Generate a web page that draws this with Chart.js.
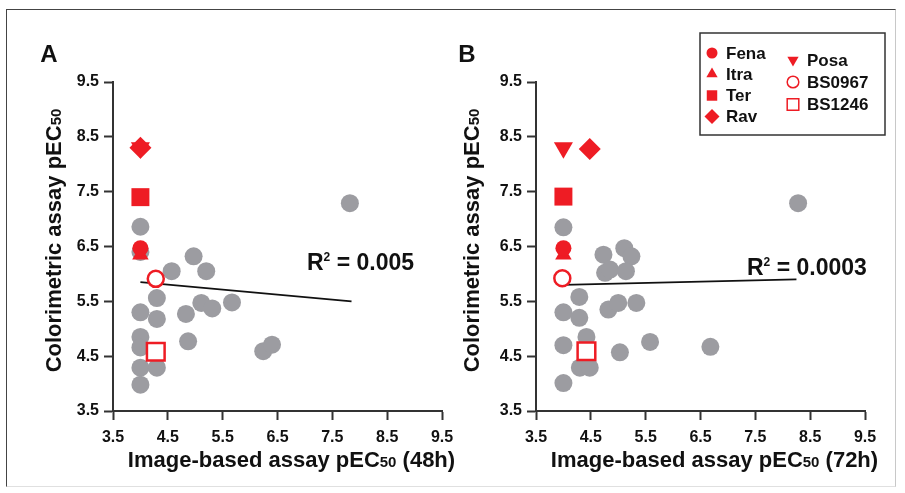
<!DOCTYPE html>
<html>
<head>
<meta charset="utf-8">
<script src="https://cdn.jsdelivr.net/npm/chart.js@4.4.0/dist/chart.umd.min.js"></script>
<style>
html, body { margin: 0; padding: 0; background: #fff; }
#wrap { position: relative; width: 905px; height: 493px; overflow: hidden; background: #fff; }
#frame { position: absolute; left: 6px; top: 9px; width: 890px; height: 478px; box-sizing: border-box;
         border: 1.5px solid #444; border-right-color: #c8c8c8; border-bottom-color: #e0e0e0; }
canvas { position: absolute; top: 0; }
#cA { left: 0; }
#cB { left: 440px; }
</style>
</head>
<body>
<div id="wrap">
  <div id="frame"></div>
  <canvas id="cA" width="480" height="493"></canvas>
  <canvas id="cB" width="465" height="493"></canvas>
</div>
<script>
const TICK_VALUES = [3.5, 4.5, 5.5, 6.5, 7.5, 8.5, 9.5];
const DRUGS = ['Fena', 'Itra', 'Ter', 'Rav', 'Posa', 'BS0967', 'BS1246'];

// panel A (48h)
const drugX48 = [4.0, 4.0, 4.0, 4.0, 4.0, 4.28, 4.28];
const drugY48 = [6.47, 6.35, 7.40, 8.30, 8.30, 5.91, 4.58];
const otherX48 = [4.0, 4.0, 4.57, 4.97, 5.20, 4.30, 4.0, 4.30, 4.83, 5.11, 5.31, 5.67, 4.0, 4.0, 4.87, 4.0, 4.30, 4.0, 6.24, 6.40, 7.82];
const otherY48 = [6.86, 6.40, 6.05, 6.32, 6.05, 5.56, 5.30, 5.18, 5.27, 5.47, 5.37, 5.48, 4.85, 4.66, 4.77, 4.29, 4.29, 3.98, 4.59, 4.71, 7.29];
const fitX48 = [4.0, 7.85];
const fitY48 = [5.85, 5.50];
const r2Text48 = '0.005';

// panel B (72h)
const drugX72 = [4.0, 4.0, 4.0, 4.48, 4.0, 3.98, 4.42];
const drugY72 = [6.47, 6.35, 7.41, 8.28, 8.30, 5.92, 4.59];
const otherX72 = [4.0, 4.73, 5.11, 5.24, 4.76, 4.85, 5.14, 4.29, 4.0, 4.29, 4.82, 5.00, 5.33, 4.0, 4.42, 5.03, 5.58, 6.68, 4.30, 4.48, 4.0, 8.28];
const otherY72 = [6.85, 6.35, 6.47, 6.32, 6.02, 6.08, 6.05, 5.58, 5.30, 5.20, 5.35, 5.47, 5.47, 4.70, 4.85, 4.57, 4.76, 4.67, 4.29, 4.29, 4.01, 7.29];
const fitX72 = [4.0, 8.25];
const fitY72 = [5.80, 5.90];
const r2Text72 = '0.0003';

const RED = '#ee1c24';
const GRAY = '#9c9ca1';
const FONT = '"Liberation Sans", Arial, Helvetica, sans-serif';

// marker look per drug: r = plot radius, lr = legend radius
const MARK = {
    Fena:   { style: 'circle',   r: 8,    lr: 5.5, rot: 0 },
    Itra:   { style: 'triangle', r: 9.5,  lr: 6.5, rot: 0 },
    Ter:    { style: 'rect',     r: 12.7, lr: 7.4, rot: 0 },
    Rav:    { style: 'rectRot',  r: 11,   lr: 7.5, rot: 0 },
    Posa:   { style: 'triangle', r: 11,   lr: 6.5, rot: 180 },
    BS0967: { style: 'circle',   r: 8,    lr: 5.8, rot: 0, open: true },
    BS1246: { style: 'rect',     r: 12.5, lr: 8.2, rot: 0, open: true }
};

function pairs(xs, ys){ return xs.map((x, i) => ({ x: x, y: ys[i] })); }

function buildDatasets(dx, dy, ox, oy, fx, fy){
    const sets = DRUGS.map((name, i) => {
        const m = MARK[name];
        return {
            label: name, data: [{ x: dx[i], y: dy[i] }], showLine: false,
            pointStyle: m.style, pointRadius: m.r, pointRotation: m.rot,
            pointBackgroundColor: m.open ? '#fff' : RED, pointBorderColor: RED,
            pointBorderWidth: m.open ? 2.5 : 0
        };
    });
    sets.push({ label: 'fit', data: pairs(fx, fy), showLine: true, borderColor: '#111', borderWidth: 1.6, pointRadius: 0 });
    sets.push({ label: 'other', data: pairs(ox, oy), showLine: false, pointStyle: 'circle', pointRadius: 9,
                pointBackgroundColor: GRAY, pointBorderWidth: 0 });
    return sets;
}

function axis(pad){
    return {
        type: 'linear', min: 3.5, max: 9.5,
        afterBuildTicks: s => { s.ticks = TICK_VALUES.map(v => ({ value: v })); },
        grid: { display: true, drawOnChartArea: false, drawTicks: true, tickLength: 9, tickWidth: 2, tickColor: '#333' },
        border: { display: true, color: '#333', width: 2 },
        ticks: { color: '#111', padding: pad, maxRotation: 0, autoSkip: false,
                 font: { family: FONT, size: 16, weight: 'bold' }, callback: v => Number(v).toFixed(1) }
    };
}

// draw text pieces of different sizes on one baseline
function richText(ctx, parts, x, y, align){
    let total = 0;
    parts.forEach(p => { ctx.font = 'bold ' + p.size + 'px ' + FONT; p.w = ctx.measureText(p.t).width; total += p.w; });
    let cx = align === 'center' ? x - total / 2 : x;
    ctx.textAlign = 'left';
    ctx.textBaseline = 'alphabetic';
    parts.forEach(p => {
        ctx.font = 'bold ' + p.size + 'px ' + FONT;
        ctx.fillText(p.t, cx, y + (p.dy || 0));
        cx += p.w;
    });
}

function decor(cfg){
    return {
        id: 'decor' + cfg.letter,
        afterDraw(chart){
            const ctx = chart.ctx, a = chart.chartArea;
            ctx.save();
            ctx.fillStyle = '#111';
            // panel letter
            richText(ctx, [{ t: cfg.letter, size: 24 }], a.left + cfg.letterDx, a.top - 20, 'center');
            // x title
            richText(ctx, [{ t: 'Image-based assay pEC', size: 22 }, { t: '50', size: 15 }, { t: ' (' + cfg.hours + ')', size: 22 }],
                     (a.left + a.right) / 2 + 14, a.bottom + 56, 'center');
            // y title
            ctx.save();
            ctx.translate(a.left + cfg.yTitleDx, (a.top + a.bottom) / 2 - 6);
            ctx.rotate(-Math.PI / 2);
            richText(ctx, [{ t: 'Colorimetric assay pEC', size: 22 }, { t: '50', size: 15 }], 0, 8, 'center');
            ctx.restore();
            // R squared
            richText(ctx, [{ t: 'R', size: 23 }, { t: '2', size: 12, dy: -9 }, { t: ' = ' + cfg.r2, size: 23 }],
                     a.left + cfg.r2Dx, a.top + cfg.r2Dy, 'left');
            if (cfg.legend) drawLegend(ctx, cfg.legend);
            ctx.restore();
        }
    };
}

function drawLegend(ctx, L){
    ctx.lineWidth = 1.5;
    ctx.strokeStyle = '#333';
    ctx.strokeRect(L.x, L.y, L.w, L.h);
    const cols = [DRUGS.slice(0, 4), DRUGS.slice(4)];
    const colX = [L.x + 12, L.x + 93];
    const rowY = [[20, 41, 62.5, 83.5], [27, 49, 71.5]];
    cols.forEach((names, c) => {
        names.forEach((name, r) => {
            const m = MARK[name];
            const mx = colX[c], my = L.y + rowY[c][r];
            ctx.fillStyle = m.open ? '#fff' : RED;
            ctx.strokeStyle = RED;
            Chart.helpers.drawPoint(ctx, { pointStyle: m.style, radius: m.lr, rotation: m.rot, borderWidth: m.open ? 1.8 : 0 }, mx, my);
            ctx.fillStyle = '#111';
            ctx.font = 'bold 17px ' + FONT;
            ctx.textAlign = 'left';
            ctx.textBaseline = 'middle';
            ctx.fillText(name, mx + 14, my + 1);
        });
    });
}

function makeChart(id, sets, pad, cfg){
    return new Chart(document.getElementById(id).getContext('2d'), {
        type: 'scatter',
        data: { datasets: sets },
        options: {
            responsive: false, animation: false, events: [],
            layout: { padding: pad },
            plugins: { legend: { display: false }, tooltip: { enabled: false } },
            scales: {
                x: Object.assign(axis(8), { afterFit: s => { s.height = 50; } }),
                y: Object.assign(axis(5), { afterFit: s => { s.width = 60; } })
            }
        },
        plugins: [decor(cfg)]
    });
}

makeChart('cA', buildDatasets(drugX48, drugY48, otherX48, otherY48, fitX48, fitY48),
    { left: 53, right: 38, top: 82, bottom: 32 },
    { letter: 'A', hours: '48h', letterDx: -64, yTitleDx: -60, r2: r2Text48, r2Dx: 194, r2Dy: 188 });

makeChart('cB', buildDatasets(drugX72, drugY72, otherX72, otherY72, fitX72, fitY72),
    { left: 36, right: 40, top: 82, bottom: 32 },
    { letter: 'B', hours: '72h', letterDx: -69, yTitleDx: -65, r2: r2Text72, r2Dx: 211, r2Dy: 193,
      legend: { x: 260, y: 33, w: 185, h: 102 } });
</script>
</body>
</html>
